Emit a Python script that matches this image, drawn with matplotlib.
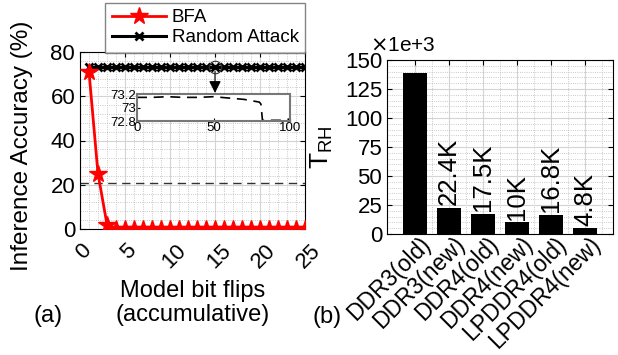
import numpy as np
import matplotlib.pyplot as plt
import matplotlib.transforms as mtransforms
from matplotlib.ticker import AutoMinorLocator

plt.rcParams["font.family"] = ["Liberation Sans", "DejaVu Sans"]

# Panel (a) data
flips = list(range(1, 26))
bfa_acc = [71, 25, 2] + [0] * 22
random_acc = [73] * 25
random_guess = 21

inset_x = [0, 10, 20, 30, 40, 50, 60, 70, 75, 80, 81, 82, 90, 95, 100]
inset_y = [73.15, 73.15, 73.16, 73.15, 73.15, 73.16, 73.14, 73.12, 73.10, 73.08, 73.05, 72.81, 72.81, 72.81, 72.83]

# Panel (b) data
dram = ["DDR3(old)", "DDR3(new)", "DDR4(old)", "DDR4(new)", "LPDDR4(old)", "LPDDR4(new)"]
t_rh = [139, 22.4, 17.5, 10, 16.8, 4.8]
t_rh_labels = ["", "22.4K", "17.5K", "10K", "16.8K", "4.8K"]

W, H = 618, 355
fig = plt.figure(figsize=(W / 100, H / 100), dpi=100)


def px_axes(l, t, r, b):
    return fig.add_axes([l / W, 1 - b / H, (r - l) / W, (b - t) / H])


def style_grid(ax):
    ax.set_axisbelow(True)
    ax.grid(which="major", color="#d4d4d4", lw=0.8)
    ax.grid(which="minor", color="#b8b8b8", ls=":", lw=0.6)
    ax.tick_params(which="both", direction="in", top=True, right=True)
    ax.tick_params(which="minor", length=0)


#- (a) ------------------------------------------------------------------------
ax1 = px_axes(80, 52, 305, 229)
l1, = ax1.plot(flips, bfa_acc, color="red", marker="*", markersize=13, lw=2, zorder=4)
l2, = ax1.plot(flips, random_acc, color="black", marker="x", markersize=6, mew=2, lw=2.2, zorder=3)
ax1.axhline(random_guess, color="#333333", ls=(0, (6, 4)), lw=1)
ax1.plot([15], [73], marker="o", mfc="none", mec="#333333", markersize=9, mew=0.8, zorder=5)
ax1.set_xlim(0, 25)
ax1.set_ylim(0, 80)
ax1.set_xticks(range(0, 26, 5))
ax1.set_yticks(range(0, 81, 20))
ax1.xaxis.set_minor_locator(AutoMinorLocator(5))
ax1.yaxis.set_minor_locator(AutoMinorLocator(5))
style_grid(ax1)
ax1.tick_params(labelsize=16)
ax1.tick_params(axis="x", rotation=45, pad=8)
shift = mtransforms.ScaledTranslation(4 / 100, 0, fig.dpi_scale_trans)
for lab in ax1.get_xticklabels():
    lab.set_transform(lab.get_transform() + shift)
ax1.set_ylabel("Inference Accuracy (%)", fontsize=17.5)
ax1.yaxis.set_label_coords(-47 / 225, 0.47)
ax1.set_xlabel("Model bit flips\n(accumulative)", fontsize=17, linespacing=1.1)
ax1.xaxis.set_label_coords(0.5, -0.29)
leg = fig.legend([l1, l2], ["BFA", "Random Attack"], loc="lower left",
                 bbox_to_anchor=(105 / W, 1 - 53 / H), fontsize=13.5,
                 frameon=True, fancybox=False, edgecolor="#666666",
                 handlelength=2.9, handletextpad=0.3, borderpad=0.35,
                 labelspacing=0.15, borderaxespad=0)
leg.get_frame().set_linewidth(1)
ax1.annotate("", xy=(15, 61.5), xytext=(15, 71.2),
             arrowprops=dict(arrowstyle="-|>", color="black", lw=0.8,
                             mutation_scale=18, shrinkA=0, shrinkB=0))

ins = px_axes(137, 94, 290, 121)
ins.plot(inset_x, inset_y, color="black", ls=(0, (6, 4)), lw=1.2)
ins.set_xlim(0, 100)
ins.set_ylim(72.8, 73.2)
ins.set_xticks([0, 50, 100])
ins.set_yticks([72.8, 73, 73.2])
ins.set_yticklabels(["72.8", "73", "73.2"])
ins.tick_params(labelsize=9.5, direction="in", length=2, pad=1)
for sp in ins.spines.values():
    sp.set_color("#777777")
    sp.set_linewidth(1.5)

fig.text(48 / W, 1 - 316 / H, "(a)", fontsize=17, ha="center", va="center")

#- (b) ------------------------------------------------------------------------
ax2 = px_axes(387, 60, 613, 234)
pos = np.arange(len(dram))
ax2.bar(pos, t_rh, width=0.72, color="black")
for p, v, s in zip(pos, t_rh, t_rh_labels):
    if s:
        ax2.text(p, v + 2.5, s, rotation=90, ha="center", va="bottom", fontsize=18.5)
ax2.set_xlim(-0.83, 5.82)
ax2.set_ylim(0, 150)
ax2.set_yticks(range(0, 151, 25))
ax2.set_xticks(pos)
ax2.set_xticklabels(dram, rotation=45, ha="right", va="center", rotation_mode="anchor")
ax2.yaxis.set_minor_locator(AutoMinorLocator(5))
ax2.set_xticks(pos + 0.5, minor=True)
style_grid(ax2)
ax2.tick_params(labelsize=16)
ax2.tick_params(axis="x", labelsize=16.5, pad=5)
shift2 = mtransforms.ScaledTranslation(12 / 100, 0, fig.dpi_scale_trans)
for lab in ax2.get_xticklabels():
    lab.set_transform(lab.get_transform() + shift2)
ax2.set_ylabel(r"T$_{\mathregular{RH}}$", fontsize=19)
ax2.yaxis.set_label_coords(-52 / 226, 0.5)
ax2.text(-17 / 226, 1.03, r"$\times$1e+3", transform=ax2.transAxes, fontsize=15,
         ha="left", va="bottom")
fig.text(327 / W, 1 - 317 / H, "(b)", fontsize=17, ha="center", va="center")

fig.savefig("out.png", dpi=100)
